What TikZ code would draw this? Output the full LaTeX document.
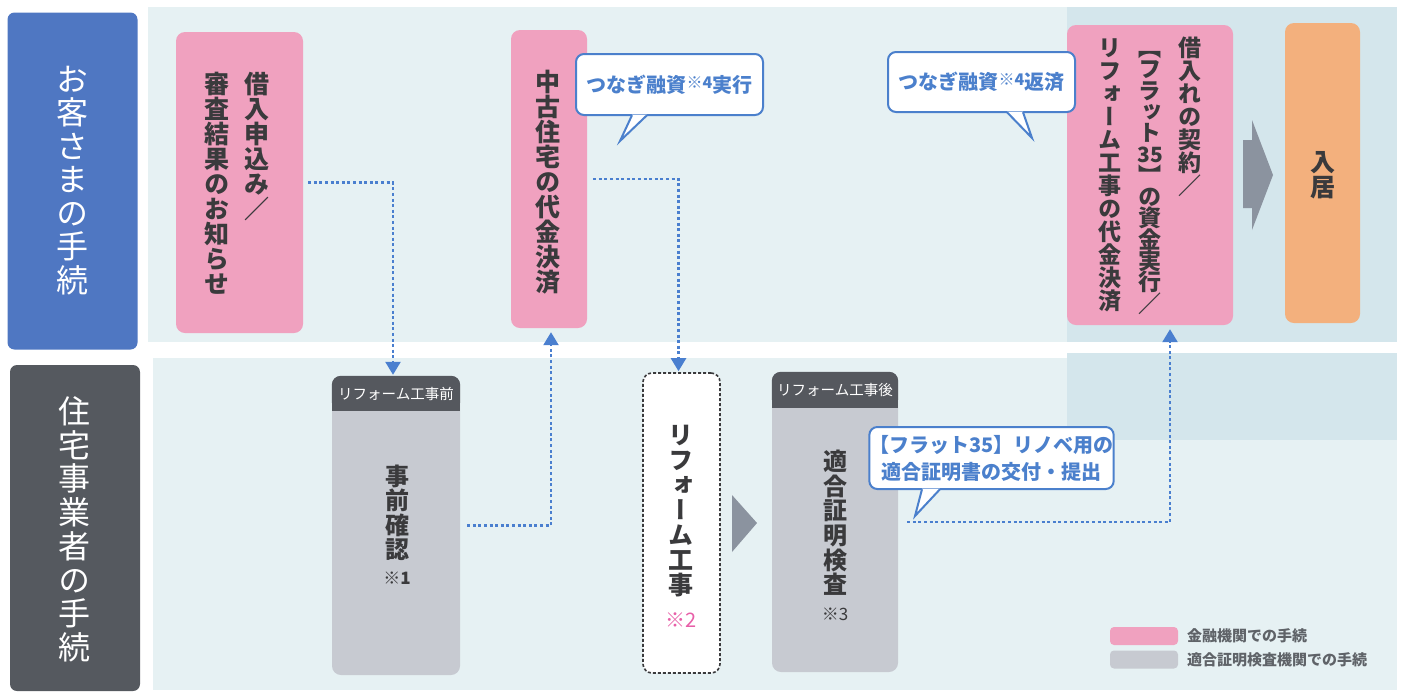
\documentclass[tikz,border=0pt]{standalone}
\usepackage{fontspec}
\usetikzlibrary{arrows.meta,calc}
\newfontfamily\jp{Noto Sans CJK JP}
\newfontfamily\jpv[RawFeature=+vert]{Noto Sans CJK JP}
\definecolor{hdrblue}{HTML}{4F77C2}
\definecolor{hdrgray}{HTML}{55595F}
\definecolor{pinkbox}{HTML}{F0A1BF}
\definecolor{orangebox}{HTML}{F3B07D}
\definecolor{graybody}{HTML}{C7CAD1}
\definecolor{grayhead}{HTML}{55585E}
\definecolor{flowblue}{HTML}{4A7FCF}
\definecolor{callblue}{HTML}{4B80CC}
\definecolor{panellight}{HTML}{E6F1F3}
\definecolor{paneldark}{HTML}{D4E6EC}
\definecolor{chev}{HTML}{8B939F}
\definecolor{txtdark}{HTML}{3A3A3C}
\definecolor{legtxt}{HTML}{5F6368}
\definecolor{markpink}{HTML}{E85FA8}
\makeatletter
\newcommand\tate[2]{\vbox{\offinterlineskip\@tfor\tate@c:=#2\do{\hbox to 1em{\hss\vrule height .88em depth .12em width 0pt\tate@c\hss}\kern#1}}}
\makeatother
\tikzset{
  hdr/.style={rounded corners=7pt, inner sep=0pt},
  stepbox/.style={rounded corners=9pt, inner sep=0pt},
  vtxt/.style={anchor=north, inner sep=0pt, text=txtdark},
  callout/.style={draw=callblue, line width=2pt, fill=white, rounded corners=8pt, inner sep=0pt, text=callblue, font=\jp\bfseries\fontsize{20}{27}\selectfont, align=center},
  flow/.style={draw=flowblue, line width=2.4pt, dash pattern=on 3pt off 2.6pt, -{Triangle[width=15pt,length=13pt]}, shorten >=1pt},
}
\begin{document}
\begin{tikzpicture}[x=1pt,y=-1pt]
\useasboundingbox (0,0) rectangle (1403,697);
% background panels
\fill[panellight] (148,7) rectangle (1397,342);
\fill[paneldark] (1067,7) rectangle (1397,342);
\fill[panellight] (153,358) rectangle (1397,690);
\fill[paneldark] (1067,353) rectangle (1397,440);
% left headers
\node[hdr, fill=hdrblue, minimum width=130, minimum height=337] (h1) at (72.5,181) {};
\node[vtxt, text=white, font=\jpv\fontsize{32}{32}\selectfont] (h1t) at (72,63) {\tate{1.5pt}{お客さまの手続}};
\node[hdr, fill=hdrgray, minimum width=130, minimum height=326] (h2) at (75,528) {};
\node[vtxt, text=white, font=\jpv\fontsize{32}{32}\selectfont] (h2t) at (74,395) {\tate{1.75pt}{住宅事業者の手続}};
% pink box 1
\node[stepbox, fill=pinkbox, minimum width=127, minimum height=301] (p1) at (239.5,182.5) {};
\node[vtxt, font=\jpv\bfseries\fontsize{25}{25}\selectfont] (p1a) at (257,71) {\tate{0pt}{借入申込み／}};
\node[vtxt, font=\jpv\bfseries\fontsize{25}{25}\selectfont] (p1b) at (217,71) {\tate{0pt}{審査結果のお知らせ}};
% pink box 2
\node[stepbox, fill=pinkbox, minimum width=76, minimum height=298] (p2) at (549,179) {};
\node[vtxt, font=\jpv\bfseries\fontsize{25}{25}\selectfont] (p2a) at (548,69) {\tate{0pt}{中古住宅の代金決済}};
% pink box 3
\node[stepbox, fill=pinkbox, minimum width=166, minimum height=300] (p3) at (1150,175) {};
\node[vtxt, font=\jpv\bfseries\fontsize{23}{23}\selectfont] (p3a) at (1190,36) {\tate{0pt}{借入れの契約／}};
\node[vtxt, font=\jpv\bfseries\fontsize{23}{23}\selectfont] (p3b) at (1150,36) {\tate{-1.7pt}{【フラット{\fontsize{21}{21}\selectfont 35}】の資金実行／}};
\node[vtxt, font=\jpv\bfseries\fontsize{23}{23}\selectfont] (p3c) at (1110,36) {\tate{0pt}{リフォーム工事の代金決済}};
% orange box
\node[stepbox, fill=orangebox, minimum width=75, minimum height=300] (o1) at (1322.5,173) {};
\node[vtxt, font=\jpv\bfseries\fontsize{25}{25}\selectfont] (o1a) at (1323,149) {\tate{0pt}{入居}};
% chevrons
\fill[chev] (1243,140) -- (1252,140) -- (1252,120) -- (1273,175) -- (1252,230) -- (1252,208) -- (1243,208) -- cycle;
\fill[chev] (732,495) -- (757,523) -- (732,552) -- cycle;
% callouts
\node[callout, minimum width=187, minimum height=61] (c1) at (669.5,84.5) {つなぎ融資\raisebox{4pt}{\fontsize{16}{16}\selectfont ※4}実行};
\fill[white] ($(c1.south)+(-37.5,-1.5)$) -- ($(c1.south)+(-49.5,25)$) -- ($(c1.south)+(-22.5,-1.5)$) -- cycle;
\draw[callblue, line width=2pt] ($(c1.south)+(-37.5,-0.8)$) -- ($(c1.south)+(-49.5,25)$) -- ($(c1.south)+(-22.5,-0.8)$);
\node[callout, minimum width=187, minimum height=60] (c2) at (981.5,82) {つなぎ融資\raisebox{4pt}{\fontsize{16}{16}\selectfont ※4}返済};
\fill[white] ($(c2.south)+(25.5,-1.5)$) -- ($(c2.south)+(50.5,25)$) -- ($(c2.south)+(41.5,-1.5)$) -- cycle;
\draw[callblue, line width=2pt] ($(c2.south)+(25.5,-0.8)$) -- ($(c2.south)+(50.5,25)$) -- ($(c2.south)+(41.5,-0.8)$);
% lower boxes
\node[stepbox, fill=graybody, minimum width=128, minimum height=299] (k1) at (396,525.5) {};
\fill[grayhead, rounded corners=9pt] (k1.north west) rectangle ($(k1.north east)+(0,35)$);
\fill[grayhead] ($(k1.north west)+(0,15)$) rectangle ($(k1.north east)+(0,35)$);
\node[inner sep=0pt, text=white, font=\jp\fontsize{14.5}{14.5}\selectfont] (k1h) at (396,394) {リフォーム工事前};
\node[vtxt, font=\jpv\bfseries\fontsize{24}{24}\selectfont] (k1a) at (397,464) {\tate{0.5pt}{事前確認}};
\node[inner sep=0pt, text=txtdark, font=\jp\bfseries\fontsize{17}{17}\selectfont] (k1n) at (397,578) {※1};
\node[stepbox, fill=white, draw=txtdark, line width=1.6pt, dash pattern=on 3pt off 2pt, minimum width=77, minimum height=300] (r1) at (681.5,523) {};
\node[vtxt, font=\jpv\bfseries\fontsize{25}{25}\selectfont] (r1a) at (681,422) {\tate{0pt}{リフォーム工事}};
\node[inner sep=0pt, text=markpink, font=\jp\fontsize{20}{20}\selectfont] (r1n) at (681,620) {※2};
\node[stepbox, fill=graybody, minimum width=126, minimum height=300] (k2) at (835,522) {};
\fill[grayhead, rounded corners=9pt] (k2.north west) rectangle ($(k2.north east)+(0,36)$);
\fill[grayhead] ($(k2.north west)+(0,15)$) rectangle ($(k2.north east)+(0,36)$);
\node[inner sep=0pt, text=white, font=\jp\fontsize{14.5}{14.5}\selectfont] (k2h) at (835,390) {リフォーム工事後};
\node[vtxt, font=\jpv\bfseries\fontsize{24}{24}\selectfont] (k2a) at (835,449) {\tate{0.7pt}{適合証明検査}};
\node[inner sep=0pt, text=txtdark, font=\jp\fontsize{17}{17}\selectfont] (k2n) at (835,614) {※3};
% callout 3
\node[callout, minimum width=241, minimum height=62] (c3) at (991.5,458) {【フラット35】リノベ用の\\適合証明書の交付・提出};
\fill[white] ($(c3.south)+(-69.5,-1.5)$) -- ($(c3.south)+(-76.5,26)$) -- ($(c3.south)+(-51.5,-1.5)$) -- cycle;
\draw[callblue, line width=2pt] ($(c3.south)+(-69.5,-0.8)$) -- ($(c3.south)+(-76.5,26)$) -- ($(c3.south)+(-51.5,-0.8)$);
% flows
\draw[flow] ($(p1.east)+(5,0)$) -| ($(k1.north)+(-3,0)$);
\draw[flow] ($(k1.east)+(7,0)$) -| ($(p2.south)+(2,3)$);
\draw[flow] ($(p2.east)+(6,0)$) -| ($(r1.north)+(-3,0)$);
\draw[flow] ($(k2.east)+(9,0)$) -| ($(p3.south)+(20,3)$);
% legend
\node[stepbox, rounded corners=4pt, fill=pinkbox, minimum width=68, minimum height=18] (lg1) at (1144,636) {};
\node[anchor=west, inner sep=0pt, text=legtxt, font=\jp\bfseries\fontsize{15}{15}\selectfont] (lg1t) at (1187,636) {金融機関での手続};
\node[stepbox, rounded corners=4pt, fill=graybody, minimum width=68, minimum height=18] (lg2) at (1144,659.5) {};
\node[anchor=west, inner sep=0pt, text=legtxt, font=\jp\bfseries\fontsize{15}{15}\selectfont] (lg2t) at (1187,659.5) {適合証明検査機関での手続};
\end{tikzpicture}
\end{document}
